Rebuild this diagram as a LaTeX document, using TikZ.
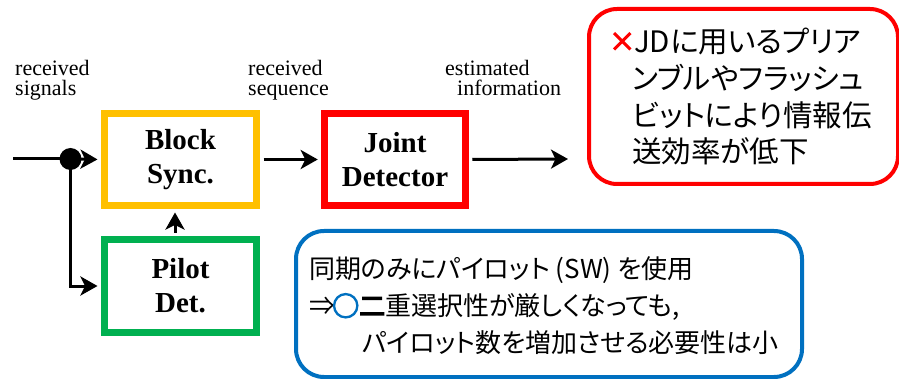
\documentclass[tikz,border=0pt]{standalone}
\usepackage{fontspec}
\setmainfont{Liberation Serif}
\newfontfamily\jp[RawFeature=+palt]{Noto Sans CJK JP}
\newfontfamily\jpb[RawFeature=+palt, FakeBold=5]{Noto Sans CJK JP}
\usetikzlibrary{arrows.meta}

\definecolor{syncgold}{HTML}{FFC000}
\definecolor{pilotgreen}{HTML}{00B050}
\definecolor{jdred}{HTML}{FF0000}
\definecolor{noteblue}{HTML}{0070C0}

\tikzset{
  head/.style={-{Stealth[length=17pt, width=19pt, inset=4.5pt]}}
}

\begin{document}
\begin{tikzpicture}[x=1pt, y=-1pt,
  block/.style={draw, line width=7pt, fill=white, minimum width=152pt,
    minimum height=92pt, inner sep=0pt, align=center,
    font=\fontsize{29}{34}\selectfont\bfseries},
  lab/.style={inner sep=0pt, anchor=north west, align=left, font=\fontsize{22}{20.5}\selectfont},
  wire/.style={line width=3pt},
  flow/.style={wire, head, shorten >=3.5pt},
  jtext/.style={inner sep=0pt, anchor=base west, font=\jp\fontsize{29.5}{34}\selectfont},
  btext/.style={inner sep=0pt, anchor=base west, font=\jp\fontsize{26}{34}\selectfont},
  note/.style={draw, line width=4pt, rounded corners=28pt, inner sep=0pt, anchor=north west}
]
\useasboundingbox (0,0) rectangle (899,379);

% processing blocks
\node[block, draw=syncgold] (sync) at (180.5,159.5) {Block\\Sync.};
\node[block, draw=pilotgreen] (pilot) at (180.5,286) {Pilot\\Det.};
\node[block, draw=jdred, minimum width=140.5pt] (jd) at (395,159.5) {Joint\\Detector};

% signal labels
\node[lab] (l1) at (15,60) {received\\signals};
\node[lab] (l2) at (248,60) {received\\sequence};
\node[lab] (l3) at (445,60) {estimated\\\hspace*{12pt}information};

% signal flow
\coordinate (in) at (13,159);
\coordinate (split) at (70.5,159);
\coordinate (out) at (568,159);
\draw[wire] (in) -- (split);
\draw[flow] (split) -- (sync.west);
\draw[flow] (split) |- (pilot.west);
\fill (split) circle (11pt);
\draw[flow, shorten <=3.5pt] ([xshift=-5.5pt]pilot.north) -- ([xshift=-5.5pt]sync.south);
\draw[flow, shorten <=3.5pt] (sync.east) -- (jd.west);
\draw[wire, head, shorten <=3.5pt] (jd.east) -- (out);

% drawback note
\node[note, draw=jdred, minimum width=309pt, minimum height=175pt] (con) at (587,7) {};
\node[inner sep=0pt, anchor=base west, text=jdred, font=\jpb\fontsize{26}{34}\selectfont] (c0) at (609,51) {×};
\node[jtext] (c1) at (634,53) {JDに用いるプリア};
\node[jtext] (c2) at (632,90) {ンブルやフラッシュ};
\node[jtext] (c3) at (632,126.5) {ビットにより情報伝};
\node[jtext] (c4) at (632,163) {送効率が低下};

% advantage note
\node[note, draw=noteblue, minimum width=506pt, minimum height=146pt] (pro) at (294,229) {};
\node[btext] (p1) at (309,279) {同期のみにパイロット (SW) を使用};
\node[btext] (p2a) at (309,315.5) {⇒};
\node[inner sep=0pt, anchor=base west, text=noteblue, font=\jpb\fontsize{27}{34}\selectfont] (p2b) at (332,316) {○};
\node[inner sep=0pt, anchor=base west, font=\jpb\fontsize{26}{34}\selectfont] (p2c) at (359,315.5) {二};
\node[btext] (p2d) at (385,315.5) {重選択性が厳しくなっても,};
\node[btext] (p3) at (362,352) {パイロット数を増加させる必要性は小};
\end{tikzpicture}
\end{document}
